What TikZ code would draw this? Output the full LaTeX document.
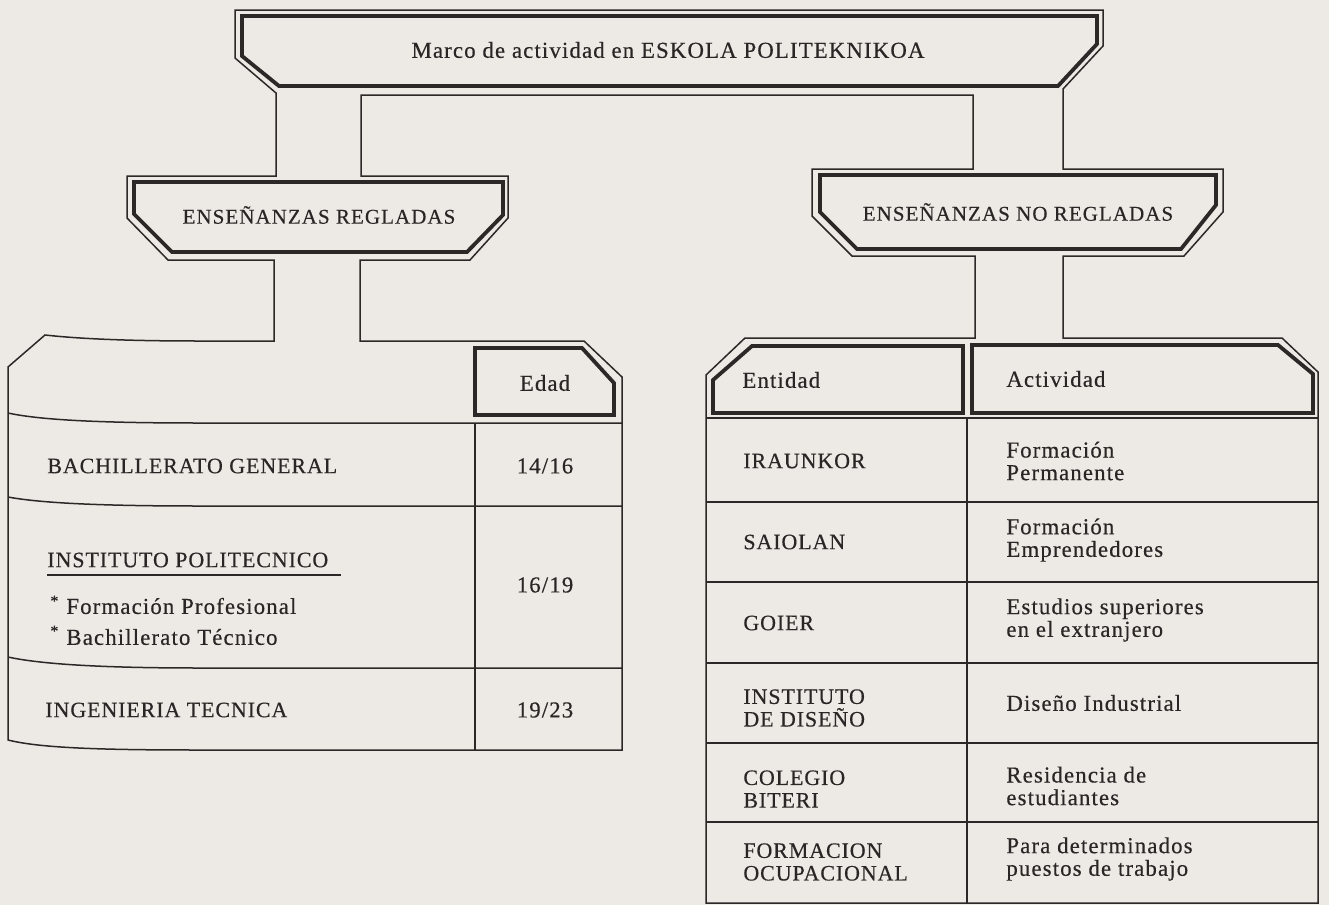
\documentclass[tikz,border=0pt]{standalone}
\usepackage{fontspec}
\setmainfont{Liberation Serif}[LetterSpace=5, FakeBold=0.4]
\newfontfamily\tabcaps{Liberation Serif}[LetterSpace=4, FakeBold=0.4]
\newfontfamily\mixfont{Liberation Serif}[LetterSpace=5, FakeBold=0.4]
\definecolor{paper}{RGB}{237,234,229}
\definecolor{ink}{RGB}{45,40,40}
\definecolor{txt}{RGB}{42,38,38}
\tikzset{
  thinline/.style={draw=ink, line width=0.75pt, line join=miter},
  thickline/.style={draw=ink, line width=1.9pt, line join=miter},
  rule/.style={draw=ink, line width=0.75pt},
  lbl/.style={text=txt, inner sep=0pt, font=\fontsize{10.5}{11.5}\selectfont},
  lblw/.style={lbl, anchor=west, align=left},
  capw/.style={lblw, font=\fontsize{11}{11.3}\selectfont\tabcaps},
  mixw/.style={lblw, font=\fontsize{11.4}{11.3}\selectfont\mixfont},
  mixc/.style={lbl, font=\fontsize{11.4}{11.3}\selectfont\mixfont},
}
\begin{document}
\begin{tikzpicture}[x=0.5pt, y=-0.5pt]
\fill[paper] (0,0) rectangle (1329,905);
\useasboundingbox (0,0) rectangle (1329,905);

% continuous thin outline: top box, connectors, boxes and tables
\draw[thinline] (235,10) -- (1103,10) -- (1103,46) -- (1063,89) -- (1063,169)
  -- (1223,169) -- (1223,212) -- (1184,256) -- (1063,256) -- (1063,338)
  -- (1282,338) -- (1318,372) -- (1318,903) -- (706,903) -- (706,375)
  -- (745,338) -- (975,338) -- (975,256) -- (852,256) -- (812,216)
  -- (812,169) -- (973,169) -- (973,95) -- (361,95) -- (361,176)
  -- (508,176) -- (508,218) -- (470,260) -- (360,260) -- (360,341)
  -- (584,341) -- (622,377) -- (622,750) -- (200,750)
  .. controls (100,750) and (40,748) .. (8,740) -- (8,367) -- (45,335)
  .. controls (90,340) and (150,341) .. (200,341) -- (274,341)
  -- (274,260) -- (168,260) -- (127,218) -- (127,176) -- (276,176)
  -- (276,93) -- (235,58) -- cycle;

% thick inner outlines
\draw[thickline] (242,16) -- (1097,16) -- (1097,44) -- (1058,86) -- (279,86) -- (242,56) -- cycle;
\draw[thickline] (134,182) -- (503,182) -- (503,215) -- (467,252) -- (172,252) -- (134,214) -- cycle;
\draw[thickline] (820,175) -- (1216,175) -- (1216,205) -- (1181,249) -- (857,249) -- (820,212) -- cycle;
\draw[thickline] (475,348) -- (582,348) -- (614,383) -- (614,415) -- (475,415) -- cycle;
\draw[thickline] (752,346) -- (963,346) -- (963,413) -- (713,413) -- (713,380) -- cycle;
\draw[thickline] (972,345) -- (1278,345) -- (1313,374) -- (1313,413) -- (972,413) -- cycle;

% left table rules
\draw[rule] (8,413) .. controls (40,420) and (100,423) .. (200,423) -- (622,423);
\draw[rule] (8,497) .. controls (40,503) and (100,506) .. (200,506) -- (622,506);
\draw[rule] (8,657) .. controls (40,664) and (100,668) .. (200,668) -- (622,668);
\draw[rule] (475,423) -- (475,750);

% right table rules
\draw[rule] (706,418) -- (1318,418);
\foreach \yy in {502,582,663,743,822} { \draw[rule] (706,\yy) -- (1318,\yy); }
\draw[rule] (967,418) -- (967,903);

% texts
\node[mixc] (top) at (668,50) {Marco de actividad en ESKOLA POLITEKNIKOA};
\node[lbl] (reg) at (319,215) {ENSEÑANZAS REGLADAS};
\node[lbl] (noreg) at (1018,212) {ENSEÑANZAS NO REGLADAS};

\node[mixc] (edad) at (545,383) {Edad};
\node[capw] (bach) at (47,466) {BACHILLERATO GENERAL};
\node[mixc] (e1) at (545,466) {14/16};
\node[capw] (inst) at (47,560) {INSTITUTO POLITECNICO};
\draw[rule] (47,575) -- (341,575);
\node[lblw, font=\fontsize{8}{9}\selectfont] (b1) at (50,601) {*};
\node[mixw] (fp) at (66,606) {Formación Profesional};
\node[lblw, font=\fontsize{8}{9}\selectfont] (b2) at (50,631) {*};
\node[mixw] (bt) at (66,637) {Bachillerato Técnico};
\node[mixc] (e2) at (545,585) {16/19};
\node[capw] (ing) at (45,710) {INGENIERIA TECNICA};
\node[mixc] (e3) at (545,710) {19/23};

\node[mixw] (ent) at (742,380) {Entidad};
\node[mixw] (act) at (1006,379) {Actividad};

\node[capw] (r1a) at (743,461) {IRAUNKOR};
\node[mixw] (r1b) at (1006,461) {Formación\\Permanente};
\node[capw] (r2a) at (743,542) {SAIOLAN};
\node[mixw] (r2b) at (1006,540) {Formación\\Emprendedores};
\node[capw] (r3a) at (743,623) {GOIER};
\node[mixw] (r3b) at (1006,620) {Estudios superiores\\en el extranjero};
\node[capw] (r4a) at (743,708) {INSTITUTO\\DE DISEÑO};
\node[mixw] (r4b) at (1006,703) {Diseño Industrial};
\node[capw] (r5a) at (743,789) {COLEGIO\\BITERI};
\node[mixw] (r5b) at (1006,786) {Residencia de\\estudiantes};
\node[capw] (r6a) at (743,862) {FORMACION\\OCUPACIONAL};
\node[mixw] (r6b) at (1006,859) {Para determinados\\puestos de trabajo};
\end{tikzpicture}
\end{document}
